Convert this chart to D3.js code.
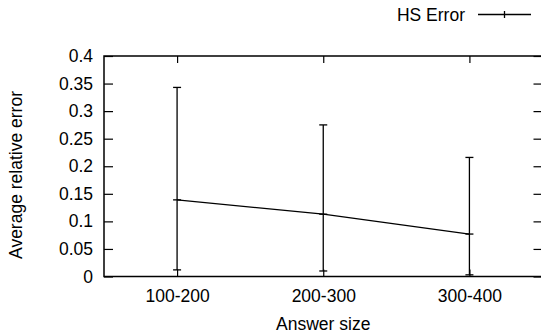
<!DOCTYPE html>
<html>
<head>
<meta charset="utf-8">
<script src="https://cdn.jsdelivr.net/npm/d3@7"></script>
<style>
  html, body { margin: 0; padding: 0; background: #fff; }
  svg { display: block; }
  text { font-family: "Liberation Sans", Arial, Helvetica, sans-serif; fill: #000; }
</style>
</head>
<body>
<svg id="chart" width="541" height="335"></svg>
<script>
// Answer-size buckets and the HS error statistics for each bucket
const categories = ["100-200", "200-300", "300-400"];
const meanError = [0.139, 0.113, 0.077];
const errorHigh = [0.343, 0.275, 0.216];
const errorLow  = [0.012, 0.010, 0.003];
const yTicks = [0, 0.05, 0.1, 0.15, 0.2, 0.25, 0.3, 0.35, 0.4];
const seriesName = "HS Error";

const svg = d3.select("#chart");
const FONT = 17.5;

const plotLeft = 104, plotRight = 542.5, plotTop = 56, plotBottom = 276.5;

const x = d3.scaleLinear().domain([0.5, categories.length + 0.5]).range([plotLeft, plotRight]);
const y = d3.scaleLinear().domain([0, 0.4]).range([plotBottom, plotTop]);

const idx = categories.map((_, i) => i + 1);

// Axes: gnuplot-style inward ticks, mirrored on all four sides
const yAxisL = d3.axisLeft(y).tickValues(yTicks).tickSize(-9).tickPadding(11)
  .tickFormat(d => d3.format("~g")(d));
const yAxisR = d3.axisRight(y).tickValues(yTicks).tickSize(-9).tickFormat("");
const xAxisB = d3.axisBottom(x).tickValues(idx).tickSize(-7).tickPadding(13.5)
  .tickFormat(d => categories[d - 1]);
const xAxisT = d3.axisTop(x).tickValues(idx).tickSize(-7).tickFormat("");

function styleAxis(g) {
  g.select(".domain").remove();
  g.selectAll(".tick line").attr("stroke", "#000").attr("stroke-width", 1.2);
  g.selectAll("text").style("font-size", FONT + "px").attr("fill", "#000");
}

svg.append("g").attr("transform", `translate(${plotLeft},0)`).call(yAxisL).call(styleAxis);
svg.append("g").attr("transform", `translate(${plotRight},0)`).call(yAxisR).call(styleAxis);
svg.append("g").attr("transform", `translate(0,${plotBottom})`).call(xAxisB).call(styleAxis);
svg.append("g").attr("transform", `translate(0,${plotTop})`).call(xAxisT).call(styleAxis);

// Plot border
svg.append("rect")
  .attr("x", plotLeft).attr("y", plotTop)
  .attr("width", plotRight - plotLeft).attr("height", plotBottom - plotTop)
  .attr("fill", "none").attr("stroke", "#000").attr("stroke-width", 1.5);

// Axis titles
svg.append("text")
  .attr("x", (plotLeft + plotRight) / 2).attr("y", 330)
  .attr("text-anchor", "middle")
  .style("font-size", FONT + "px")
  .text("Answer size");

svg.append("text")
  .attr("transform", "translate(22,175) rotate(-90)")
  .attr("text-anchor", "middle")
  .style("font-size", FONT + "px")
  .text("Average relative error");

// Series: line through means, with error bars and + markers
const data = idx.map((k, i) => ({ k, m: meanError[i], hi: errorHigh[i], lo: errorLow[i] }));
const plot = svg.append("g").attr("stroke", "#000").attr("fill", "none").attr("stroke-width", 1.3);

plot.append("path")
  .datum(data)
  .attr("d", d3.line().x(d => x(d.k)).y(d => y(d.m)));

const cap = 4;
const bars = plot.selectAll("g.bar").data(data).join("g").attr("class", "bar");
bars.append("line")
  .attr("x1", d => x(d.k)).attr("x2", d => x(d.k))
  .attr("y1", d => y(d.lo)).attr("y2", d => y(d.hi));
bars.append("line")
  .attr("x1", d => x(d.k) - cap).attr("x2", d => x(d.k) + cap)
  .attr("y1", d => y(d.hi)).attr("y2", d => y(d.hi));
bars.append("line")
  .attr("x1", d => x(d.k) - cap).attr("x2", d => x(d.k) + cap)
  .attr("y1", d => y(d.lo)).attr("y2", d => y(d.lo));
// + point markers
bars.append("line")
  .attr("x1", d => x(d.k) - 4).attr("x2", d => x(d.k) + 4)
  .attr("y1", d => y(d.m)).attr("y2", d => y(d.m));

// Legend
const legend = svg.append("g");
legend.append("text")
  .attr("x", 465).attr("y", 20.7)
  .attr("text-anchor", "end")
  .style("font-size", FONT + "px")
  .text(seriesName);
legend.append("line")
  .attr("x1", 478).attr("x2", 531).attr("y1", 14.5).attr("y2", 14.5)
  .attr("stroke", "#000").attr("stroke-width", 1.3);
legend.append("line")
  .attr("x1", 504.5).attr("x2", 504.5).attr("y1", 11).attr("y2", 18)
  .attr("stroke", "#000").attr("stroke-width", 1.3);
</script>
</body>
</html>
